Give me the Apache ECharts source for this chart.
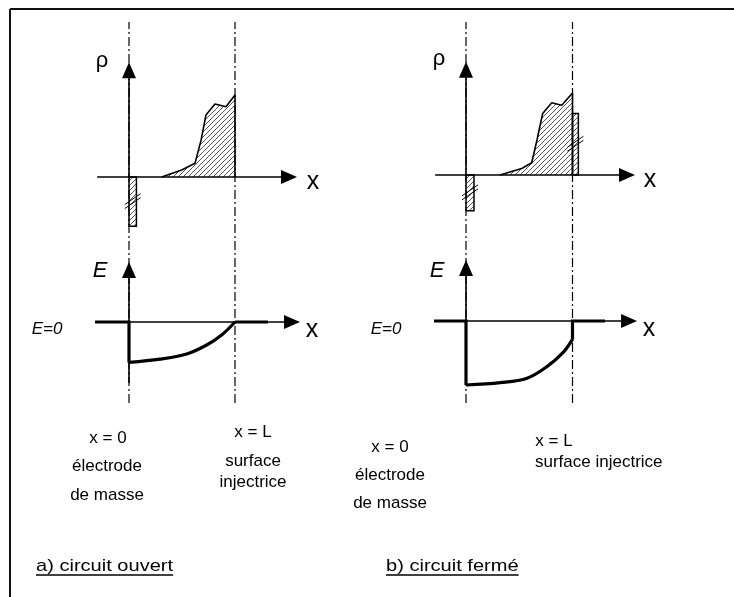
<!DOCTYPE html>
<html><head><meta charset="utf-8">
<script src="https://cdn.jsdelivr.net/npm/echarts@6/dist/echarts.min.js"></script>
<style>html,body{margin:0;padding:0;background:#fff}#c{width:734px;height:597px}</style>
</head><body><div id="c"></div>
<script>
// ---------------- data (x in units of L, rho normalised, E arbitrary) ----------------
const rhoA_x = [0.308, 0.497, 0.623, 0.68, 0.726, 0.811, 0.915, 1.0, 1.0];
const rhoA_y = [0, 0.085, 0.167, 0.45, 0.756, 0.89, 0.857, 1.0, 0];
const rhoB_x = [0.319, 0.523, 0.617, 0.667, 0.72, 0.805, 0.899, 1.0, 1.0];
const rhoB_y = [0, 0.08, 0.15, 0.43, 0.75, 0.88, 0.85, 1.0, 0];
// surface charges [x0, x1, y0, y1]
const sheetsA = [[0, 0.07, 0, -0.6]];
const sheetsB = [[0, 0.075, 0, -0.435], [1.0, 1.055, 0, 0.75]];
// electric field
const fieldA_x = [0, 0.292, 0.544, 0.733, 0.874, 1.0];
const fieldA_y = [-1.01, -0.93, -0.8, -0.575, -0.325, 0];
const fieldB_x = [0, 0.322, 0.573, 0.76, 0.917, 1.0];
const fieldB_y = [-1.6, -1.54, -1.43, -1.14, -0.77, -0.46];
const outsideA = [-0.32, 1.311];
const outsideB = [-0.30, 1.305];
// axis arrows [x1,y1,x2,y2]
const rhoArrowsA = [[0, 0, 0, 1.40], [-0.30, 0, 1.585, 0]];
const rhoArrowsB = [[0, 0, 0, 1.38], [-0.29, 0, 1.587, 0]];
const eArrowsA = [[0, -1.525, 0, 1.5], [-0.32, 0, 1.613, 0]];
const eArrowsB = [[0, -1.6, 0, 1.525], [-0.30, 0, 1.606, 0]];

// ---------------- helpers ----------------
function hatchCanvas() {
  const c = document.createElement('canvas'); c.width = 5; c.height = 5;
  const g = c.getContext('2d'); g.strokeStyle = '#555'; g.lineWidth = 1;
  g.beginPath();
  g.moveTo(-1, 6); g.lineTo(6, -1);
  g.moveTo(-1, 1); g.lineTo(1, -1);
  g.moveTo(4, 6); g.lineTo(6, 4);
  g.stroke();
  return c;
}
const HATCH = { image: hatchCanvas(), repeat: 'repeat' };
const zip = (xs, ys) => xs.map((x, i) => [x, ys[i]]);

function arrowItem(params, api) {
  const a = api.coord([api.value(0), api.value(1)]);
  const b = api.coord([api.value(2), api.value(3)]);
  const dx = b[0] - a[0], dy = b[1] - a[1], len = Math.hypot(dx, dy);
  const ux = dx / len, uy = dy / len, HL = 16, HW = 7;
  const bx = b[0] - ux * HL, by = b[1] - uy * HL;
  return { type: 'group', children: [
    { type: 'line', shape: { x1: a[0], y1: a[1], x2: bx, y2: by }, style: { stroke: '#000', lineWidth: 1.6 } },
    { type: 'polygon', shape: { points: [[b[0], b[1]], [bx - uy * HW, by + ux * HW], [bx + uy * HW, by - ux * HW]] }, style: { fill: '#000' } }
  ]};
}
function sheetItem(params, api) {
  const p0 = api.coord([api.value(0), api.value(2)]);
  const p1 = api.coord([api.value(1), api.value(3)]);
  const x = Math.min(p0[0], p1[0]), y = Math.min(p0[1], p1[1]);
  const w = Math.abs(p1[0] - p0[0]), h = Math.abs(p1[1] - p0[1]);
  const cx = x + w / 2, cy = y + h / 2;
  const ls = { stroke: '#000', lineWidth: 1 };
  return { type: 'group', children: [
    { type: 'rect', shape: { x: x, y: y, width: w, height: h }, style: { fill: HATCH, stroke: '#000', lineWidth: 1.5 } },
    { type: 'line', shape: { x1: cx - 8, y1: cy + 3, x2: cx + 8, y2: cy - 8 }, style: ls },
    { type: 'line', shape: { x1: cx - 8, y1: cy + 7, x2: cx + 8, y2: cy - 4 }, style: ls }
  ]};
}

// ---------------- layout ----------------
const XMIN = -0.35, XMAX = 1.65;
const panels = [
  { x0: 129, L: 106, rho0: 177, e0: 322 },
  { x0: 466, L: 106.5, rho0: 175, e0: 321 }
];
const RHO = [-0.9, 1.9], RHO_PX = 82, EF = [-2.1, 1.9], E_PX = 40;
const grid = [], xAxis = [], yAxis = [];
panels.forEach(p => {
  const left = p.x0 + XMIN * p.L, width = (XMAX - XMIN) * p.L;
  grid.push({ left: left, width: width, top: p.rho0 - RHO[1] * RHO_PX, height: (RHO[1] - RHO[0]) * RHO_PX });
  grid.push({ left: left, width: width, top: p.e0 - EF[1] * E_PX, height: (EF[1] - EF[0]) * E_PX });
  grid.push({ left: left, width: width, top: 22, height: 381 });
});
for (let i = 0; i < 6; i++) {
  xAxis.push({ type: 'value', gridIndex: i, min: XMIN, max: XMAX, show: false });
  const r = i % 3 === 0 ? RHO : (i % 3 === 1 ? EF : [0, 1]);
  yAxis.push({ type: 'value', gridIndex: i, min: r[0], max: r[1], show: false });
}

const series = [];
function ax(i) { return { xAxisIndex: i, yAxisIndex: i }; }
const guideStyle = { color: '#000', width: 1.2, type: [9, 3, 2, 3] };
[2, 5].forEach(g => {
  series.push(Object.assign({ type: 'line', data: [[0, 0], [0, 1]], symbol: 'none', lineStyle: guideStyle, z: 1, silent: true }, ax(g)));
  series.push(Object.assign({ type: 'line', data: [[1, 0], [1, 1]], symbol: 'none', lineStyle: guideStyle, z: 1, silent: true }, ax(g)));
});
const rhoSets = [[rhoA_x, rhoA_y, sheetsA, rhoArrowsA], [rhoB_x, rhoB_y, sheetsB, rhoArrowsB]];
const eSets = [[fieldA_x, fieldA_y, outsideA, eArrowsA], [fieldB_x, fieldB_y, outsideB, eArrowsB]];
const thick = { color: '#000', width: 3.2, join: 'miter' };
[0, 1].forEach(k => {
  const gr = k * 3, ge = k * 3 + 1;
  const R = rhoSets[k], E = eSets[k];
  series.push(Object.assign({ type: 'line', data: zip(R[0], R[1]), symbol: 'none', lineStyle: { color: '#000', width: 1.6 },
    areaStyle: { color: HATCH, opacity: 1, origin: 0 }, z: 3 }, ax(gr)));
  series.push(Object.assign({ type: 'custom', data: R[2], renderItem: sheetItem, clip: false, encode: { x: [0, 1], y: [2, 3] }, z: 4 }, ax(gr)));
  series.push(Object.assign({ type: 'custom', data: R[3], renderItem: arrowItem, clip: false, encode: { x: [0, 2], y: [1, 3] }, z: 5 }, ax(gr)));
  // field
  series.push(Object.assign({ type: 'custom', data: E[3], renderItem: arrowItem, clip: false, encode: { x: [0, 2], y: [1, 3] }, z: 5 }, ax(ge)));
  series.push(Object.assign({ type: 'line', data: [[E[2][0], 0], [0, 0], [E[0][0], E[1][0]]], symbol: 'none', lineStyle: thick, z: 6 }, ax(ge)));
  series.push(Object.assign({ type: 'line', data: zip(E[0], E[1]), smooth: 0.35, symbol: 'none', lineStyle: thick, z: 6 }, ax(ge)));
  const last = E[0].length - 1;
  series.push(Object.assign({ type: 'line', data: [[E[0][last], E[1][last]], [1, 0], [E[2][1], 0]], symbol: 'none', lineStyle: thick, z: 6 }, ax(ge)));
});

// ---------------- texts ----------------
const FF = '"Liberation Sans", Arial, sans-serif';
function txt(t, x, y, size, opt) {
  opt = opt || {};
  return { type: 'text', x: x, y: y, z: 10, scaleX: opt.sx || 1,
    style: { text: t, fontSize: size, fontFamily: FF, fontStyle: opt.italic ? 'italic' : 'normal',
    fill: '#000', align: opt.align || 'center', verticalAlign: 'middle', textAlign: opt.align || 'center', textVerticalAlign: 'middle' } };
}
const LBL = 17;
const graphic = [
  { type: 'line', shape: { x1: 10, y1: 9, x2: 734, y2: 9 }, style: { stroke: '#111', lineWidth: 2 } },
  { type: 'line', shape: { x1: 10, y1: 9, x2: 10, y2: 597 }, style: { stroke: '#111', lineWidth: 2 } },
  txt('ρ', 102, 61, 22), txt('x', 313, 182, 25),
  txt('ρ', 439, 59, 22), txt('x', 650, 180, 25),
  txt('E', 100, 271, 22, { italic: true }), txt('x', 312, 330, 25),
  txt('E', 437, 271, 22, { italic: true }), txt('x', 649, 329, 25),
  txt('E=0', 47, 329, 17, { italic: true }), txt('E=0', 386, 329, 17, { italic: true }),
  txt('x = 0', 108, 438, LBL), txt('électrode', 107, 466, LBL), txt('de masse', 107, 495, LBL),
  txt('x = L', 253, 432, LBL), txt('surface', 253, 461, LBL), txt('injectrice', 253, 482, LBL),
  txt('x = 0', 390, 447, LBL), txt('électrode', 390, 475, LBL), txt('de masse', 390, 503, LBL),
  txt('x = L', 554, 441, LBL), txt('surface injectrice', 535, 462, LBL, { align: 'left' }),
];
const TSZ = 17, TSX = 1.18;
const titles = [['a) circuit ouvert', 36, 566], ['b) circuit fermé', 386, 566]];
const mc = document.createElement('canvas').getContext('2d');
mc.font = TSZ + 'px ' + FF;
titles.forEach(t => {
  graphic.push(txt(t[0], t[1], t[2], TSZ, { align: 'left', sx: TSX }));
  const w = mc.measureText(t[0]).width * TSX;
  graphic.push({ type: 'line', shape: { x1: t[1], y1: t[2] + 9, x2: t[1] + w, y2: t[2] + 9 }, style: { stroke: '#000', lineWidth: 1.3 } });
});

const chart = echarts.init(document.getElementById('c'), null, { renderer: 'canvas' });
chart.setOption({ animation: false, backgroundColor: '#fff', grid: grid, xAxis: xAxis, yAxis: yAxis, series: series, graphic: graphic });
</script></body></html>
